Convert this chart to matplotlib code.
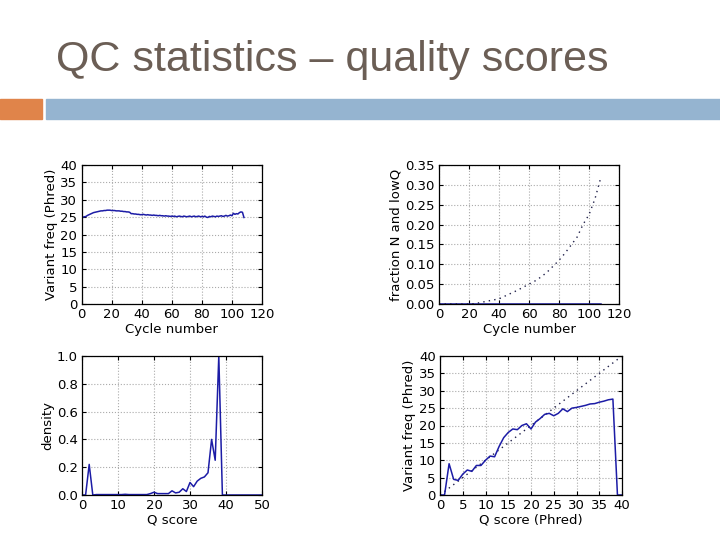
import matplotlib
matplotlib.use("Agg")
import matplotlib.pyplot as plt
from matplotlib.patches import Rectangle

# ---------------- data ----------------
title = "QC statistics – quality scores"

cycles = list(range(1, 109))
cycle_qual = [25.0, 25.1, 25.2, 25.5, 25.7,
              25.9, 26.1, 26.3, 26.4, 26.5,
              26.6, 26.7, 26.8, 26.8, 26.9,
              26.9, 27.0, 27.0, 27.0, 26.9,
              26.9, 26.9, 26.8, 26.8, 26.8,
              26.7, 26.7, 26.6, 26.6, 26.5,
              26.5, 26.4, 26.0, 26.0, 25.9,
              25.9, 25.8, 25.8, 25.7, 25.7,
              25.8, 25.7, 25.6, 25.7, 25.6,
              25.6, 25.5, 25.6, 25.5, 25.5,
              25.4, 25.5, 25.4, 25.4, 25.3,
              25.4, 25.3, 25.3, 25.2, 25.3,
              25.2, 25.3, 25.1, 25.2, 25.3,
              25.2, 25.1, 25.3, 25.2, 25.1,
              25.2, 25.3, 25.1, 25.2, 25.3,
              25.1, 25.2, 25.3, 25.1, 25.2,
              25.1, 25.3, 25.0, 24.9, 25.2,
              25.1, 25.3, 25.2, 25.1, 25.3,
              25.2, 25.3, 25.4, 25.2, 25.3,
              25.5, 25.3, 25.4, 25.6, 25.4,
              26.1, 25.8, 26.0, 25.9, 26.3,
              26.5, 26.4, 24.9]

frac_cycles = [0, 4, 8, 12, 16, 20, 24, 28, 32, 36, 40, 44, 48, 52,
               56, 60, 64, 68, 72, 76, 80, 84, 88, 92, 96, 100, 104, 108]
frac_lowq = [0, 0, 0, 0, 0, 0, 0.001, 0.004, 0.007, 0.010, 0.013, 0.020,
             0.027, 0.034, 0.042, 0.050, 0.058, 0.068, 0.080, 0.095, 0.110,
             0.128, 0.148, 0.168, 0.200, 0.225, 0.265, 0.320]
frac_n = [0.0005] * 28

qscores = list(range(0, 51))
density = [0, 0, 0.22, 0, 0.003, 0.003, 0.003, 0.003, 0.003, 0.003,
           0.003, 0.003, 0.005, 0.003, 0.003, 0.003, 0.003, 0.003, 0.003, 0.01,
           0.02, 0.01, 0.01, 0.01, 0.01, 0.03, 0.015, 0.02, 0.045, 0.025,
           0.09, 0.06, 0.10, 0.12, 0.13, 0.16, 0.40, 0.25, 1.0, 0,
           0, 0, 0, 0, 0, 0, 0, 0, 0, 0, 0]

q_phred = list(range(0, 41))
variant_by_q = [0, 0, 9, 4.5, 4.2, 6, 7.2, 6.8, 8.5, 8.5,
                10, 11.2, 11, 14, 16.5, 18, 19, 18.8, 20, 20.5,
                19, 21, 22, 23.2, 23.5, 22.8, 23.5, 24.8, 24, 25,
                25.2, 25.5, 25.8, 26.2, 26.3, 26.7, 27, 27.4, 27.6, 0, 0]
ideal_x = [0, 40]
ideal_y = [0, 40]

# ---------------- figure ----------------
W, H = 720, 540
fig = plt.figure(figsize=(7.2, 5.4), dpi=100)
fig.patch.set_facecolor("white")

fig.text(56 / W, 1 - 60 / H, title, fontsize=31, color="#6b5e55",
         family="Liberation Sans", va="center", ha="left")
fig.patches.append(Rectangle((0, 1 - 119 / H), 42 / W, 20 / H,
                             transform=fig.transFigure, color="#e0844a"))
fig.patches.append(Rectangle((46 / W, 1 - 119 / H), 674 / W, 20 / H,
                             transform=fig.transFigure, color="#95b4d0"))

line_col = "#1c1ca6"
dot_style = (0, (1, 3))
fs = 9.5


def make_ax(x0, x1, ytop, ybot):
    ax = fig.add_axes([x0 / W, 1 - ybot / H, (x1 - x0) / W, (ybot - ytop) / H])
    ax.grid(True, linestyle=":", color="#aaaaaa", linewidth=0.8)
    ax.tick_params(direction="in", top=True, right=True, labelsize=fs,
                   length=3, pad=3)
    for s in ax.spines.values():
        s.set_linewidth(0.9)
    return ax


ax1 = make_ax(81.5, 262, 165, 304)
ax1.plot(cycles, cycle_qual, color=line_col, lw=1.1)
ax1.set_xlim(0, 120)
ax1.set_ylim(0, 40)
ax1.set_xticks(range(0, 121, 20))
ax1.set_yticks(range(0, 41, 5))
ax1.set_xlabel("Cycle number", fontsize=fs, labelpad=1)
ax1.set_ylabel("Variant freq (Phred)", fontsize=fs, labelpad=2)

ax2 = make_ax(439, 619, 165, 304)
ax2.plot(frac_cycles, frac_n, color=line_col, lw=1.1)
ax2.plot(frac_cycles, frac_lowq, color="#20204a", lw=1.0, linestyle=dot_style)
ax2.set_xlim(0, 120)
ax2.set_ylim(0, 0.35)
ax2.set_xticks(range(0, 121, 20))
ax2.set_yticks([0, 0.05, 0.10, 0.15, 0.20, 0.25, 0.30, 0.35])
ax2.set_yticklabels(["0.00", "0.05", "0.10", "0.15", "0.20", "0.25",
                     "0.30", "0.35"])
ax2.set_xlabel("Cycle number", fontsize=fs, labelpad=1)
ax2.set_ylabel("fraction N and lowQ", fontsize=fs, labelpad=2)

ax3 = make_ax(82, 262, 356, 495)
ax3.plot(qscores, density, color=line_col, lw=1.1)
ax3.set_xlim(0, 50)
ax3.set_ylim(0, 1.0)
ax3.set_xticks(range(0, 51, 10))
ax3.set_yticks([0, 0.2, 0.4, 0.6, 0.8, 1.0])
ax3.set_yticklabels(["0.0", "0.2", "0.4", "0.6", "0.8", "1.0"])
ax3.set_xlabel("Q score", fontsize=fs, labelpad=1)
ax3.set_ylabel("density", fontsize=fs, labelpad=2)

ax4 = make_ax(440, 622, 356, 495)
ax4.plot(ideal_x, ideal_y, color="#20204a", lw=1.0, linestyle=dot_style)
ax4.plot(q_phred, variant_by_q, color=line_col, lw=1.1)
ax4.set_xlim(0, 40)
ax4.set_ylim(0, 40)
ax4.set_xticks(range(0, 41, 5))
ax4.set_yticks(range(0, 41, 5))
ax4.set_xlabel("Q score (Phred)", fontsize=fs, labelpad=1)
ax4.set_ylabel("Variant freq (Phred)", fontsize=fs, labelpad=2)

fig.savefig("out.png", dpi=100)
